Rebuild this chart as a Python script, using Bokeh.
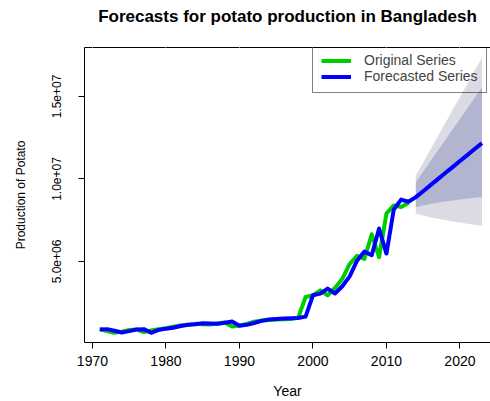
from bokeh.plotting import figure
from bokeh.models import (Range1d, FixedTicker, LinearAxis, Legend, LegendItem)
from bokeh.embed import file_html
from bokeh.resources import INLINE

# ---- data (in tonnes) ----
years = list(range(1971, 2014))
original = [0.90, 0.78, 0.68, 0.75, 0.85, 0.88, 0.72, 0.82, 0.90, 0.95,
            1.05, 1.12, 1.15, 1.22, 1.20, 1.18, 1.24, 1.30, 1.06, 1.12,
            1.22, 1.35, 1.42, 1.45, 1.48, 1.50, 1.52, 1.60, 2.85, 2.95,
            3.25, 2.95, 3.40, 3.95, 4.85, 5.35, 5.15, 6.65, 5.26, 7.90,
            8.40, 8.30, 8.55]
fitted = [0.88, 0.90, 0.80, 0.70, 0.78, 0.88, 0.90, 0.68, 0.85, 0.93,
          0.98, 1.09, 1.16, 1.20, 1.26, 1.24, 1.22, 1.29, 1.36, 1.11,
          1.16, 1.27, 1.40, 1.48, 1.51, 1.54, 1.56, 1.58, 1.66, 2.95,
          3.05, 3.36, 3.06, 3.50, 4.10, 5.05, 5.60, 5.38, 7.00, 5.48,
          8.15, 8.75, 8.62]
fc_years = list(range(2014, 2024))
fc_mean = [8.90, 9.26, 9.63, 9.99, 10.36, 10.72, 11.09, 11.45, 11.82, 12.17]
lo80 = [8.29, 8.40, 8.49, 8.57, 8.64, 8.70, 8.76, 8.81, 8.86, 8.90]
hi80 = [9.81, 10.45, 11.09, 11.73, 12.37, 13.01, 13.64, 14.28, 14.92, 15.56]
lo95 = [7.89, 7.78, 7.68, 7.59, 7.51, 7.43, 7.36, 7.29, 7.23, 7.16]
hi95 = [10.21, 11.00, 11.80, 12.59, 13.38, 14.18, 14.97, 15.76, 16.56, 17.35]
y_ticks = [5e6, 1e7, 1.5e7]
y_tick_labels = ["5.0e+06", "1.0e+07", "1.5e+07"]
x_ticks = [1970, 1980, 1990, 2000, 2010, 2020]
title_text = "Forecasts for potato production in Bangladesh"

M = 1e6
orig_v = [v * M for v in original]
blue_x = years + fc_years
blue_v = [v * M for v in fitted] + [v * M for v in fc_mean]

FONT = "Liberation Sans"

p = figure(width=490, height=401, output_backend="svg", toolbar_location=None,
           x_range=Range1d(1968.92, 2024.16), y_range=Range1d(0.09e6, 17.97e6),
           min_border_left=84, min_border_right=0, min_border_top=0,
           min_border_bottom=59, background_fill_color="white",
           border_fill_color="white")
p.outline_line_color = None
p.grid.visible = False

p.title.text = title_text
p.title.align = "center"
p.title.vertical_align = "top"
p.title.text_font = FONT
p.title.text_font_size = "17px"
p.title.text_font_style = "bold"
p.title.text_color = "black"
p.title.standoff = 13

# bands
p.varea(x=fc_years, y1=[v * M for v in lo95], y2=[v * M for v in hi95],
        fill_color="#DBDBE3")
p.varea(x=fc_years, y1=[v * M for v in lo80], y2=[v * M for v in hi80],
        fill_color="#B1B5CF")

g = p.line(years, orig_v, line_color="#00CD00", line_width=4,
           line_join="round")
b = p.line(blue_x, blue_v, line_color="#0000FF", line_width=4,
           line_join="round")

# axes
xa = p.xaxis[0]
xa.ticker = FixedTicker(ticks=x_ticks)
xa.axis_label = "Year"
ya = p.yaxis[0]
ya.ticker = FixedTicker(ticks=y_ticks)
ya.major_label_overrides = {t: l for t, l in zip(y_ticks, y_tick_labels)}
ya.axis_label = "Production of Potato"
ya.major_label_orientation = "vertical"
for ax in (xa, ya):
    ax.minor_tick_line_color = None
    ax.major_tick_in = 0
    ax.major_tick_out = 6
    ax.axis_line_color = "black"
    ax.major_tick_line_color = "black"
    ax.major_label_text_color = "black"
    ax.axis_label_text_color = "black"
    ax.major_label_text_font = FONT
    ax.axis_label_text_font = FONT
    ax.axis_label_text_font_style = "normal"
xa.major_label_text_font_size = "14px"
xa.axis_label_text_font_size = "14px"
xa.major_label_standoff = 7
xa.axis_label_standoff = 14
ya.major_label_text_font_size = "12px"
ya.axis_label_text_font_size = "12px"
ya.major_label_standoff = 17
ya.axis_label_standoff = 22

# top border line of the box; its (white, invisible) ticks leave room under the title
top = LinearAxis(ticker=FixedTicker(ticks=x_ticks),
                 major_label_overrides={t: "" for t in x_ticks},
                 major_label_text_font_size="0px",
                 major_label_standoff=0, major_tick_out=13, major_tick_in=0,
                 axis_line_color="black", major_tick_line_color="white",
                 minor_tick_line_color=None)
p.add_layout(top, "above")

legend = Legend(items=[LegendItem(label="Original Series", renderers=[g]),
                       LegendItem(label="Forecasted Series", renderers=[b])],
                location=(228, 249), padding=8, spacing=0,
                glyph_width=30, glyph_height=15, label_height=15,
                label_standoff=13, label_text_font=FONT,
                label_text_font_size="14px", border_line_color="black",
                border_line_width=1, background_fill_alpha=0, margin=0)
p.add_layout(legend, "center")

open("out.html", "w").write(file_html(p, INLINE))
